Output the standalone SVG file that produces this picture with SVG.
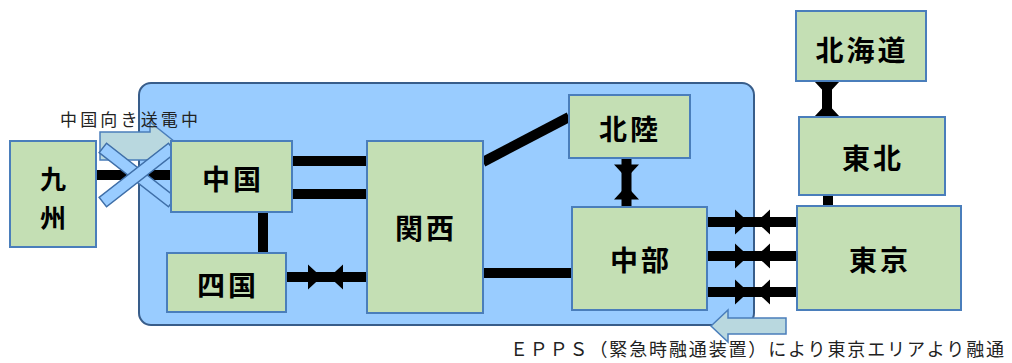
<svg xmlns="http://www.w3.org/2000/svg" width="1012" height="363" viewBox="0 0 1012 363">
<style>
.node{fill:#C4DFB4;stroke:#4A7EBB;stroke-width:2}
.lbl{font-family:"Noto Sans CJK JP","Noto Sans CJK SC",sans-serif;font-weight:700;font-size:28px;fill:#000;text-anchor:middle;dominant-baseline:central;letter-spacing:3px}
.note{font-family:"Noto Sans CJK JP","Noto Sans CJK SC",sans-serif;font-weight:400;font-size:17px;fill:#222;dominant-baseline:central}
.ln{stroke:#000;stroke-width:10;fill:none}
.bt{fill:#000}
.x{fill:#99CCFF;stroke:#3F6FA8;stroke-width:1.5}
.arr{fill:#B9D8DF;stroke:#4A7EBB;stroke-width:1.5}
</style>
<defs>
<path id="bowtie" d="M-17.5,-12.5 L-4,0 L-17.5,12.5 Z M17.5,-12.5 L4,0 L17.5,12.5 Z"/>
</defs>
<rect id="region" x="139" y="83" width="615" height="242" rx="12" ry="12" fill="#99CCFF" stroke="#385D8A" stroke-width="2"/>
<g id="connectors">
<line class="ln" x1="95" y1="175" x2="171" y2="175"/>
<line class="ln" x1="292" y1="161" x2="367" y2="161"/>
<line class="ln" x1="292" y1="194" x2="367" y2="194"/>
<line class="ln" x1="263" y1="211" x2="263" y2="253"/>
<line class="ln" x1="286" y1="277" x2="367" y2="277"/>
<use href="#bowtie" class="bt" transform="translate(325.5,277)"/>
<line class="ln" x1="483" y1="162" x2="569" y2="117"/>
<line class="ln" x1="483" y1="273" x2="572" y2="273"/>
<line class="ln" x1="626.5" y1="158" x2="626.5" y2="207"/>
<use href="#bowtie" class="bt" transform="translate(626.5,182) rotate(90)"/>
<line class="ln" x1="707" y1="222" x2="797" y2="222"/>
<use href="#bowtie" class="bt" transform="translate(752.5,222)"/>
<line class="ln" x1="707" y1="256" x2="797" y2="256"/>
<use href="#bowtie" class="bt" transform="translate(752.5,256)"/>
<line class="ln" x1="707" y1="292" x2="797" y2="292"/>
<use href="#bowtie" class="bt" transform="translate(752.5,292)"/>
<line class="ln" x1="827" y1="81" x2="827" y2="117"/>
<use href="#bowtie" class="bt" transform="translate(827,99) rotate(90)"/>
<line class="ln" x1="828" y1="195" x2="828" y2="206"/>
</g>
<g id="transfer-arrow">
<path class="arr" d="M100,132 L150,132 L150,122 L180,146 L150,170 L150,160 L100,160 Z"/>
<text class="note" x="60" y="118.5" textLength="138" lengthAdjust="spacing">中国向き送電中</text>
</g>
<g id="cross">
<rect class="x" x="-44" y="-6" width="88" height="12" transform="translate(137.5,175) rotate(38)"/>
<rect class="x" x="-44" y="-6" width="88" height="12" transform="translate(137.5,175) rotate(-38)"/>
</g>
<g id="kyushu"><rect class="node" x="10" y="141" width="86" height="106"/><text class="lbl" x="53" y="177" style="letter-spacing:0;font-size:26px">九</text><text class="lbl" x="53" y="216" style="letter-spacing:0;font-size:26px">州</text></g>
<g id="chugoku"><rect class="node" x="171" y="141" width="121" height="71"/><text class="lbl" x="233" y="178">中国</text></g>
<g id="shikoku"><rect class="node" x="167" y="253" width="119" height="59"/><text class="lbl" x="228" y="284">四国</text></g>
<g id="kansai"><rect class="node" x="367" y="141" width="116" height="172"/><text class="lbl" x="426" y="227">関西</text></g>
<g id="hokuriku"><rect class="node" x="569" y="95" width="121" height="63"/><text class="lbl" x="630" y="128">北陸</text></g>
<g id="chubu"><rect class="node" x="572" y="207" width="135" height="103"/><text class="lbl" x="641" y="259">中部</text></g>
<g id="hokkaido"><rect class="node" x="796" y="11" width="130" height="70"/><text class="lbl" x="862" y="49">北海道</text></g>
<g id="tohoku"><rect class="node" x="799" y="117" width="146" height="78"/><text class="lbl" x="873" y="157">東北</text></g>
<g id="tokyo"><rect class="node" x="797" y="206" width="164" height="104"/><text class="lbl" x="880" y="259">東京</text></g>
<g id="epps-arrow">
<path class="arr" d="M711,326 L728,310 L728,318 L786,318 L786,334 L728,334 L728,342 Z"/>
<text class="note" x="510" y="348" textLength="494" lengthAdjust="spacing" style="font-size:18px">ＥＰＰＳ（緊急時融通装置）により東京エリアより融通</text>
</g>
</svg>
